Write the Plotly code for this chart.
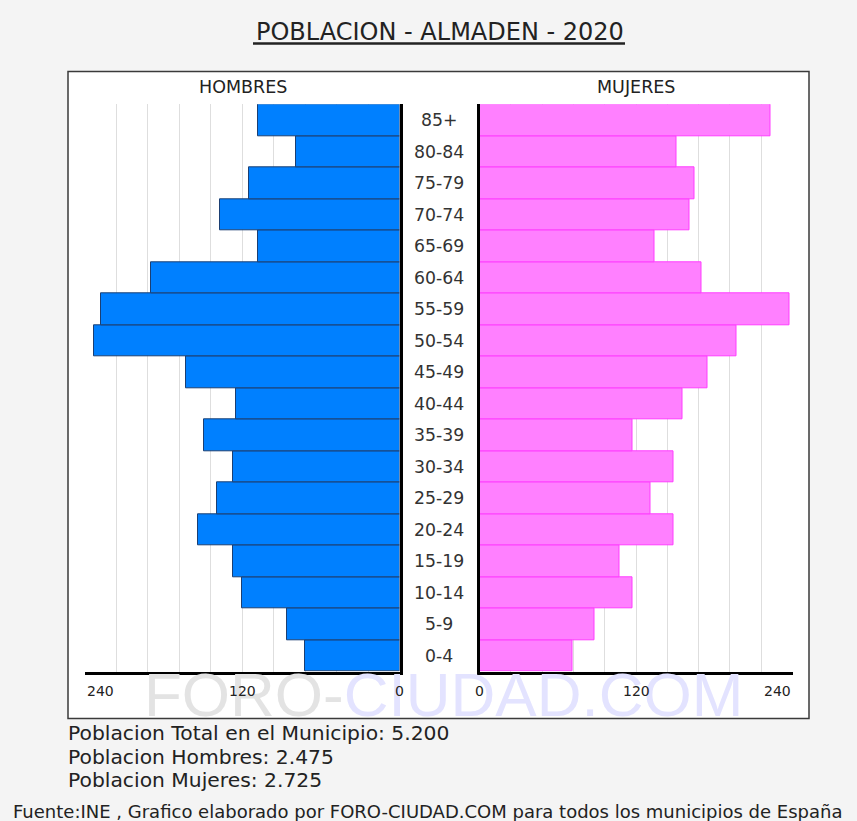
import plotly.graph_objects as go

W, H = 857, 821

AGE_GROUPS = ['0-4', '5-9', '10-14', '15-19', '20-24', '25-29', '30-34', '35-39', '40-44',
              '45-49', '50-54', '55-59', '60-64', '65-69', '70-74', '75-79', '80-84', '85+']
HOMBRES = [72, 86, 120, 127, 154, 139, 127, 149, 125, 163, 233, 228, 190, 108, 137, 115, 79, 108]
MUJERES = [71, 88, 117, 107, 149, 131, 149, 117, 156, 175, 197, 238, 170, 134, 161, 165, 151, 223]
TICK_VALUES = [0, 120, 240]
AXIS_MAX = 240
GRID_STEP = 24

TITLE = 'POBLACION - ALMADEN - 2020'
INFO_LINES = ['Poblacion Total en el Municipio: 5.200',
              'Poblacion Hombres: 2.475',
              'Poblacion Mujeres: 2.725']
FOOTER = 'Fuente:INE , Grafico elaborado por FORO-CIUDAD.COM para todos los municipios de España'

FONT = 'DejaVu Sans'
TXT = '#222222'


def px(x):
    return x / W


def py(y):
    return 1 - y / H


fig = go.Figure()

fig.add_trace(go.Bar(
    y=AGE_GROUPS, x=HOMBRES, orientation='h', xaxis='x', yaxis='y',
    marker=dict(color='rgb(0,128,255)', line=dict(color='#1b3f73', width=1)),
    hoverinfo='skip', showlegend=False))
fig.add_trace(go.Bar(
    y=AGE_GROUPS, x=MUJERES, orientation='h', xaxis='x2', yaxis='y2',
    marker=dict(color='rgb(255,128,255)', line=dict(color='rgb(255,60,255)', width=1)),
    hoverinfo='skip', showlegend=False))

ydom = [py(671.5), py(104.3)]
grid = dict(showgrid=True, gridcolor='#dedede', gridwidth=1, dtick=GRID_STEP, tick0=0,
            showticklabels=False, ticks='', zeroline=False,
            showline=True, linecolor='black', linewidth=3)

fig.update_layout(
    width=W, height=H, margin=dict(l=0, r=0, t=0, b=0),
    paper_bgcolor='#f4f4f4', plot_bgcolor='white',
    bargap=0, barmode='overlay',
    xaxis=dict(domain=[px(85), px(399.5)], range=[AXIS_MAX, 0], anchor='y', **grid),
    xaxis2=dict(domain=[px(479.5), px(792.5)], range=[0, AXIS_MAX], anchor='y2', **grid),
    yaxis=dict(domain=ydom, anchor='x', side='right', categoryorder='array',
               categoryarray=AGE_GROUPS, range=[-0.5, len(AGE_GROUPS) - 0.5],
               showticklabels=False, ticks='', showgrid=False,
               showline=True, linecolor='black', linewidth=3),
    yaxis2=dict(domain=ydom, anchor='x2', side='left', categoryorder='array',
                categoryarray=AGE_GROUPS, range=[-0.5, len(AGE_GROUPS) - 0.5],
                showticklabels=False, ticks='', showgrid=False,
                showline=True, linecolor='black', linewidth=3),
)

# white chart box
fig.add_shape(type='rect', xref='paper', yref='paper', x0=px(68), x1=px(809), y0=py(718.5), y1=py(71.5),
              fillcolor='white', line=dict(color='#3a3a3a', width=1.5), layer='below')
# title underline
fig.add_shape(type='line', xref='paper', yref='paper', x0=px(253), x1=px(625), y0=py(43.5), y1=py(43.5),
              line=dict(color=TXT, width=2.5))

ann = []
# watermark
ann.append(dict(xref='paper', yref='paper', x=px(443), y=py(694), xanchor='center', yanchor='middle',
                text='<span style="color:#e3e3e3">FORO-</span><span style="color:#e3e3ff">CIUDAD.COM</span>',
                font=dict(family='Liberation Sans', size=62), showarrow=False))
# title
ann.append(dict(xref='paper', yref='paper', x=px(440), y=py(32), xanchor='center', yanchor='middle',
                text=TITLE, font=dict(family=FONT, size=24, color=TXT), showarrow=False))
# headers
ann.append(dict(xref='paper', yref='paper', x=px(243), y=py(87), xanchor='center', yanchor='middle',
                text='HOMBRES', font=dict(family=FONT, size=17.5, color=TXT), showarrow=False))
ann.append(dict(xref='paper', yref='paper', x=px(636), y=py(87), xanchor='center', yanchor='middle',
                text='MUJERES', font=dict(family=FONT, size=17.5, color=TXT), showarrow=False))
# age labels
for g in AGE_GROUPS:
    ann.append(dict(xref='paper', yref='y', x=px(439), y=g, xanchor='center', yanchor='middle',
                    text=g, font=dict(family=FONT, size=17.3, color='#333333'), showarrow=False))
# tick labels
for v in TICK_VALUES:
    a_left = 'left' if v == AXIS_MAX else 'center'
    a_right = 'right' if v == AXIS_MAX else 'center'
    ann.append(dict(xref='x', yref='paper', x=v, y=py(691), xanchor=a_left, yanchor='middle',
                    text=str(v), font=dict(family=FONT, size=14, color=TXT), showarrow=False))
    ann.append(dict(xref='x2', yref='paper', x=v, y=py(691), xanchor=a_right, yanchor='middle',
                    text=str(v), font=dict(family=FONT, size=14, color=TXT), showarrow=False))
# info lines
for i, line in enumerate(INFO_LINES):
    ann.append(dict(xref='paper', yref='paper', x=px(66), y=py(733 + i * 23.5), xanchor='left',
                    yanchor='middle', text=line, font=dict(family=FONT, size=20.3, color=TXT),
                    showarrow=False))
# footer
ann.append(dict(xref='paper', yref='paper', x=px(427.5), y=py(811), xanchor='center', yanchor='middle',
                text=FOOTER, font=dict(family=FONT, size=18, color=TXT), showarrow=False))

fig.update_layout(annotations=ann)
fig.write_html('out.html', config={'displayModeBar': False},
               post_script="document.body.style.margin='0';document.body.style.overflow='hidden';")
